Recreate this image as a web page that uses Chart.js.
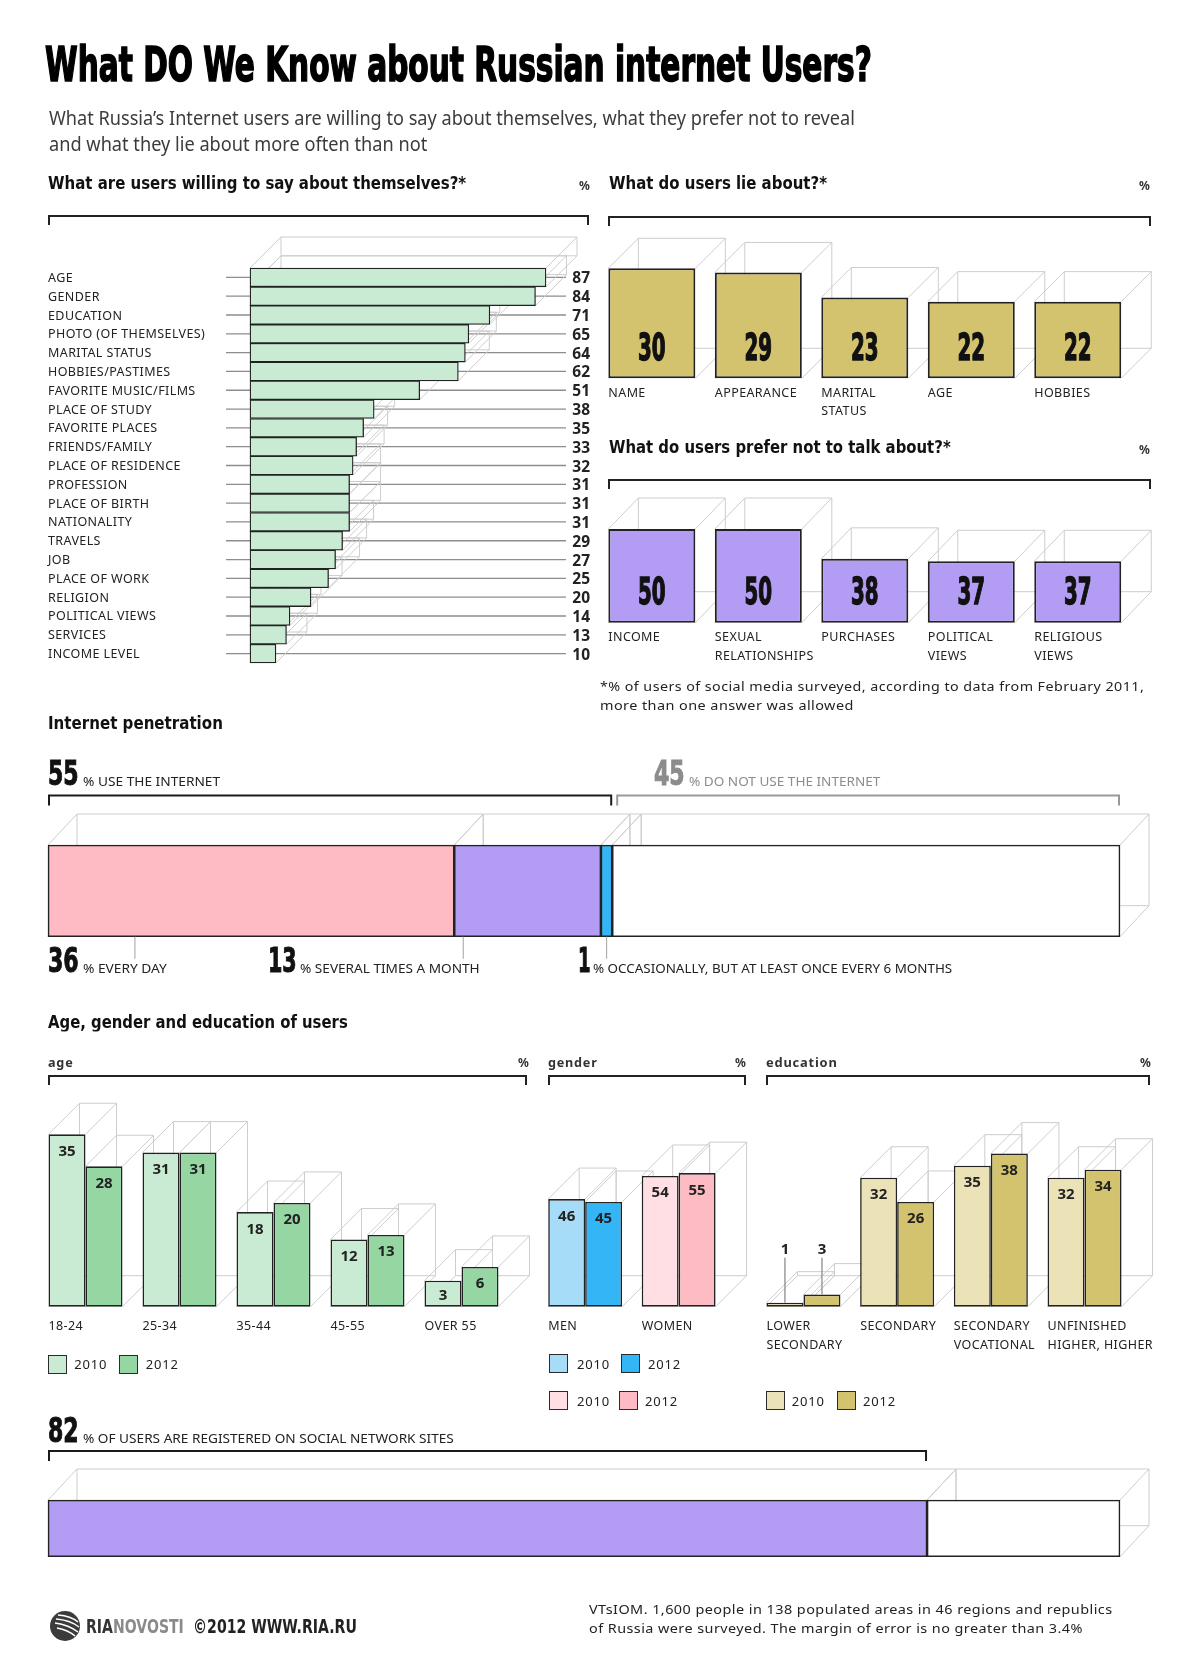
<!DOCTYPE html>
<html>
<head>
<meta charset="utf-8">
<script src="https://cdn.jsdelivr.net/npm/chart.js@4.4.1/dist/chart.umd.min.js"></script>
<style>
body { margin: 0; background: #fff; }
#page { position: relative; width: 1200px; height: 1680px; overflow: hidden; background: #fff; }
#page canvas { position: absolute; left: 0; top: 0; }
.txt { position: absolute; white-space: nowrap; line-height: 1; transform-origin: 0 50%; transform: translateY(-50%); color: #1a1a1a; }
.brk { position: absolute; border: 2px solid #222; border-bottom: none; height: 10px; box-sizing: border-box; }
.sq { position: absolute; width: 19px; height: 19px; border: 1.5px solid #2b2b2b; box-sizing: border-box; }
</style>
</head>
<body>
<div id="page"></div>
<script>
// ---- data ----
const WILLING_LABELS = ['AGE', 'GENDER', 'EDUCATION', 'PHOTO (OF THEMSELVES)', 'MARITAL STATUS',
  'HOBBIES/PASTIMES', 'FAVORITE MUSIC/FILMS', 'PLACE OF STUDY', 'FAVORITE PLACES', 'FRIENDS/FAMILY',
  'PLACE OF RESIDENCE', 'PROFESSION', 'PLACE OF BIRTH', 'NATIONALITY', 'TRAVELS', 'JOB',
  'PLACE OF WORK', 'RELIGION', 'POLITICAL VIEWS', 'SERVICES', 'INCOME LEVEL'];
const WILLING_VALUES = [87, 84, 71, 65, 64, 62, 51, 38, 35, 33, 32, 31, 31, 31, 29, 27, 25, 20, 14, 13, 10];

const LIE_LABELS = [['NAME'], ['APPEARANCE'], ['MARITAL', 'STATUS'], ['AGE'], ['HOBBIES']];
const LIE_VALUES = [30, 29, 23, 22, 22];

const SILENT_LABELS = [['INCOME'], ['SEXUAL', 'RELATIONSHIPS'], ['PURCHASES'], ['POLITICAL', 'VIEWS'], ['RELIGIOUS', 'VIEWS']];
const SILENT_VALUES = [50, 50, 38, 37, 37];

const USERS_TOTAL = 55;
const NON_USERS = 45;
const USAGE_LABELS = ['EVERY DAY', 'SEVERAL TIMES A MONTH', 'OCCASIONALLY, BUT AT LEAST ONCE EVERY 6 MONTHS'];
const USAGE_VALUES = [36, 13, 1];

const YEARS = ['2010', '2012'];
const AGE_LABELS = ['18-24', '25-34', '35-44', '45-55', 'OVER 55'];
const AGE_2010 = [35, 31, 18, 12, 3];
const AGE_2012 = [28, 31, 20, 13, 6];

const GENDER_LABELS = ['MEN', 'WOMEN'];
const GENDER_2010 = [46, 54];
const GENDER_2012 = [45, 55];

const EDU_LABELS = [['LOWER', 'SECONDARY'], ['SECONDARY'], ['SECONDARY', 'VOCATIONAL'], ['UNFINISHED', 'HIGHER, HIGHER']];
const EDU_2010 = [1, 32, 35, 32];
const EDU_2012 = [3, 26, 38, 34];

const SOCIAL_SHARE = 82;

// ---- colours and fonts ----
const INK = '#222';
const EDGE = '#cdcdcd';
const GREEN_LIGHT = '#c9ebd3';
const GREEN = '#95d6a3';
const GOLD = '#d4c36e';
const GOLD_LIGHT = '#ebe2b8';
const PURPLE = '#b39df4';
const PINK = '#ffbbc3';
const PINK_LIGHT = '#ffdfe4';
const BLUE = '#34b6f6';
const BLUE_LIGHT = '#a7dcf9';
const USAGE_COLORS = [PINK, PURPLE, BLUE];

const SANS = "'Noto Sans', 'DejaVu Sans', sans-serif";
const NARROW = "'DejaVu Sans Condensed', 'Liberation Sans Narrow', 'DejaVu Sans', sans-serif";
const LABEL_FONT = `12.5px ${SANS}`;

const page = document.getElementById('page');
const fits = [];

// ---- html helpers ----
function addText(x, cy, text, css, w) {
  const d = document.createElement('div');
  d.className = 'txt';
  d.style.left = x + 'px';
  d.style.top = cy + 'px';
  if (typeof text === 'string') d.textContent = text; else d.innerHTML = text.html;
  Object.assign(d.style, css || {});
  page.appendChild(d);
  if (w) fits.push([d, w]);
  return d;
}

function addBracket(x1, x2, y, color) {
  const d = document.createElement('div');
  d.className = 'brk';
  d.style.left = x1 + 'px';
  d.style.top = y + 'px';
  d.style.width = (x2 - x1) + 'px';
  if (color) d.style.borderColor = color;
  page.appendChild(d);
}

function addSquare(x, cy, color) {
  const d = document.createElement('div');
  d.className = 'sq';
  d.style.left = x + 'px';
  d.style.top = (cy - 9.5) + 'px';
  d.style.background = color;
  page.appendChild(d);
}

// ---- canvas helpers ----
function capText(ctx, text, x, cy, font, align, color, ls) {
  ctx.save();
  ctx.font = font;
  if ('letterSpacing' in ctx) ctx.letterSpacing = ls || '0px';
  ctx.fillStyle = color;
  ctx.textAlign = align;
  ctx.textBaseline = 'alphabetic';
  const cap = ctx.measureText('H').actualBoundingBoxAscent;
  ctx.fillText(text, x, cy + cap / 2);
  ctx.restore();
}

function condensed(ctx, text, cx, cy, px, charW, color) {
  ctx.save();
  ctx.font = `bold ${px}px ${NARROW}`;
  const w = ctx.measureText(text).width;
  const cap = ctx.measureText('0').actualBoundingBoxAscent;
  ctx.translate(cx, cy + cap / 2);
  ctx.scale(charW * text.length / w, 1);
  ctx.textAlign = 'center';
  ctx.fillStyle = color;
  ctx.strokeStyle = color;
  ctx.lineWidth = 1.4;
  ctx.fillText(text, 0, 0);
  ctx.strokeText(text, 0, 0);
  ctx.restore();
}

function bracket(ctx, x1, x2, y, color) {
  ctx.save();
  ctx.strokeStyle = color;
  ctx.lineWidth = 2;
  ctx.beginPath();
  ctx.moveTo(x1 + 1, y + 10);
  ctx.lineTo(x1 + 1, y);
  ctx.lineTo(x2 - 1, y);
  ctx.lineTo(x2 - 1, y + 10);
  ctx.stroke();
  ctx.restore();
}

function barBox(el) {
  const p = el.getProps(['x', 'y', 'base', 'width', 'height', 'horizontal'], true);
  if (p.horizontal) {
    return { l: Math.min(p.x, p.base), r: Math.max(p.x, p.base), t: p.y - p.height / 2, b: p.y + p.height / 2 };
  }
  return { l: p.x - p.width / 2, r: p.x + p.width / 2, t: Math.min(p.y, p.base), b: Math.max(p.y, p.base) };
}

function area(l, t, r, b) {
  return { left: l, top: t, right: 1200 - r, bottom: 1680 - b };
}

// ---- plugins ----
// wireframe "depth" box behind every bar
const depth = {
  id: 'depth',
  beforeDatasetsDraw(chart, args, opts) {
    const ctx = chart.ctx;
    const dx = opts.dx, dy = opts.dy;
    ctx.save();
    ctx.strokeStyle = EDGE;
    ctx.lineWidth = 1;
    chart.data.datasets.forEach((ds, i) => {
      chart.getDatasetMeta(i).data.forEach(el => {
        const b = barBox(el);
        ctx.beginPath();
        ctx.rect(b.l + dx, b.t + dy, b.r - b.l, b.b - b.t);
        [[b.l, b.t], [b.r, b.t], [b.r, b.b], [b.l, b.b]].forEach(([x, y]) => {
          ctx.moveTo(x, y);
          ctx.lineTo(x + dx, y + dy);
        });
        ctx.stroke();
      });
    });
    ctx.restore();
  }
};

// leader lines and text for the horizontal list
const willingText = {
  id: 'willingText',
  beforeDatasetsDraw(chart) {
    const ctx = chart.ctx;
    ctx.save();
    ctx.strokeStyle = '#8d8d8d';
    ctx.lineWidth = 1.3;
    chart.getDatasetMeta(0).data.forEach(el => {
      ctx.beginPath();
      ctx.moveTo(226, el.y);
      ctx.lineTo(566, el.y);
      ctx.stroke();
    });
    ctx.restore();
  },
  afterDatasetsDraw(chart) {
    const ctx = chart.ctx;
    const ds = chart.data.datasets[0];
    chart.getDatasetMeta(0).data.forEach((el, i) => {
      capText(ctx, chart.data.labels[i], 48, el.y, LABEL_FONT, 'left', INK, '0.4px');
      capText(ctx, String(ds.data[i]), 590, el.y, `bold 15.5px ${SANS}`, 'right', INK);
    });
  }
};

// category labels under vertical bars (left aligned to the group)
const catLabels = {
  id: 'catLabels',
  afterDatasetsDraw(chart, args, opts) {
    const ctx = chart.ctx;
    const meta = chart.getDatasetMeta(0);
    chart.data.labels.forEach((lab, i) => {
      const b = barBox(meta.data[i]);
      const lines = Array.isArray(lab) ? lab : [lab];
      lines.forEach((ln, k) => {
        capText(ctx, ln, b.l, b.b + opts.first + k * opts.gap, LABEL_FONT, 'left', INK, '0.4px');
      });
    });
  }
};

// big condensed values inside the boxes
const bigValues = {
  id: 'bigValues',
  afterDatasetsDraw(chart) {
    const ctx = chart.ctx;
    const ds = chart.data.datasets[0];
    chart.getDatasetMeta(0).data.forEach((el, i) => {
      const b = barBox(el);
      condensed(ctx, String(ds.data[i]), (b.l + b.r) / 2, b.b - 32.5, 38, 13.8, '#111');
    });
  }
};

// small values at the top of grouped bars
const smallValues = {
  id: 'smallValues',
  afterDatasetsDraw(chart) {
    const ctx = chart.ctx;
    chart.data.datasets.forEach((ds, di) => {
      chart.getDatasetMeta(di).data.forEach((el, i) => {
        const b = barBox(el);
        const cx = (b.l + b.r) / 2;
        const txt = String(ds.data[i]);
        if (b.b - b.t < 20) {
          ctx.save();
          ctx.strokeStyle = '#8d8d8d';
          ctx.lineWidth = 1.3;
          ctx.beginPath();
          ctx.moveTo(cx, b.b - 49);
          ctx.lineTo(cx, b.t);
          ctx.stroke();
          ctx.restore();
          capText(ctx, txt, cx, b.b - 57.5, `bold 15px ${SANS}`, 'center', INK);
        } else {
          capText(ctx, txt, cx, Math.min(b.t + 16.5, (b.t + b.b) / 2 + 1), `bold 15px ${SANS}`, 'center', INK);
        }
      });
    });
  }
};

// brackets and pointer ticks of the penetration bar
const penetrationMarks = {
  id: 'penetrationMarks',
  afterDatasetsDraw(chart) {
    const ctx = chart.ctx;
    const xs = chart.scales.x;
    const used = USAGE_VALUES.reduce((a, b) => a + b, 0);
    bracket(ctx, xs.getPixelForValue(0), xs.getPixelForValue(used), 795.5, '#1a1a1a');
    bracket(ctx, xs.getPixelForValue(used) + 4, xs.getPixelForValue(used + NON_USERS), 795.5, '#999');
    const bottom = chart.chartArea.bottom;
    ctx.save();
    ctx.strokeStyle = '#b0b0b0';
    ctx.lineWidth = 1.2;
    [7.7, USAGE_VALUES[0] + 0.8, USAGE_VALUES[0] + USAGE_VALUES[1] + 0.5].forEach(v => {
      const x = xs.getPixelForValue(v);
      ctx.beginPath();
      ctx.moveTo(x, bottom);
      ctx.lineTo(x, bottom + 22);
      ctx.stroke();
    });
    ctx.restore();
  }
};

const socialMarks = {
  id: 'socialMarks',
  afterDatasetsDraw(chart) {
    const xs = chart.scales.x;
    bracket(chart.ctx, xs.getPixelForValue(0), xs.getPixelForValue(SOCIAL_SHARE), 1451, '#1a1a1a');
  }
};

function baseOptions(pad, xs, ys, pluginOpts, extra) {
  return Object.assign({
    responsive: false,
    animation: false,
    devicePixelRatio: 1,
    layout: { padding: pad },
    scales: {
      x: Object.assign({ display: false }, xs),
      y: Object.assign({ display: false }, ys)
    },
    plugins: Object.assign({ legend: { display: false }, tooltip: { enabled: false } }, pluginOpts)
  }, extra || {});
}

function makeChart(cfg) {
  const c = document.createElement('canvas');
  c.width = 1200;
  c.height = 1680;
  page.appendChild(c);
  return new Chart(c, cfg);
}

function barSet(data, color, extra) {
  return Object.assign({
    data: data,
    backgroundColor: color,
    borderColor: INK,
    borderWidth: 1.6,
    borderSkipped: false,
    clip: false,
    barPercentage: 1,
    categoryPercentage: 1
  }, extra || {});
}

// ---- charts ----
const WILLING_MIN = 2.6;
makeChart({
  type: 'bar',
  data: { labels: WILLING_LABELS, datasets: [barSet(WILLING_VALUES, GREEN_LIGHT, { base: WILLING_MIN, borderWidth: 1.3 })] },
  options: baseOptions(area(250, 268, 546, 663),
    { min: WILLING_MIN, max: Math.max(...WILLING_VALUES) }, {},
    { depth: { dx: 31, dy: -31 } }, { indexAxis: 'y' }),
  plugins: [willingText, depth]
});

const LIE_MIN = 3.6;
makeChart({
  type: 'bar',
  data: { labels: LIE_LABELS, datasets: [barSet(LIE_VALUES, GOLD, { base: LIE_MIN, borderWidth: 2, categoryPercentage: 0.817 })] },
  options: baseOptions(area(598.6, 268.3, 1131, 378.3), {},
    { min: LIE_MIN, max: Math.max(...LIE_VALUES) },
    { depth: { dx: 30, dy: -30 }, catLabels: { first: 14, gap: 18.4 } }),
  plugins: [depth, catLabels, bigValues]
});

const SILENT_MIN = 12.3;
makeChart({
  type: 'bar',
  data: { labels: SILENT_LABELS, datasets: [barSet(SILENT_VALUES, PURPLE, { base: SILENT_MIN, borderWidth: 2, categoryPercentage: 0.817 })] },
  options: baseOptions(area(598.6, 529, 1131, 622.7), {},
    { min: SILENT_MIN, max: Math.max(...SILENT_VALUES) },
    { depth: { dx: 30, dy: -31 }, catLabels: { first: 14, gap: 19 } }),
  plugins: [depth, catLabels, bigValues]
});

makeChart({
  type: 'bar',
  data: {
    labels: [''],
    datasets: USAGE_VALUES.map((v, i) => barSet([v], USAGE_COLORS[i]))
      .concat([barSet([NON_USERS], '#fff')])
  },
  options: baseOptions(area(48, 845, 1120, 936.7),
    { stacked: true, min: 0, max: USAGE_VALUES.reduce((a, b) => a + b, 0) + NON_USERS },
    { stacked: true },
    { depth: { dx: 29, dy: -31 } }, { indexAxis: 'y' }),
  plugins: [depth, penetrationMarks]
});

const AGE_MIN = -2.7;
makeChart({
  type: 'bar',
  data: {
    labels: AGE_LABELS,
    datasets: [
      barSet(AGE_2010, GREEN_LIGHT, { base: AGE_MIN, categoryPercentage: 0.787 }),
      barSet(AGE_2012, GREEN, { base: AGE_MIN, categoryPercentage: 0.787 })
    ]
  },
  options: baseOptions(area(38.5, 1134.3, 508.5, 1306.7), {},
    { min: AGE_MIN, max: Math.max(...AGE_2010, ...AGE_2012) },
    { depth: { dx: 31, dy: -31 }, catLabels: { first: 19, gap: 18.6 } }),
  plugins: [depth, catLabels, smallValues]
});

const GENDER_MIN = 8.7;
makeChart({
  type: 'bar',
  data: {
    labels: GENDER_LABELS,
    datasets: [
      barSet(GENDER_2010, [BLUE_LIGHT, PINK_LIGHT], { base: GENDER_MIN, categoryPercentage: 0.79 }),
      barSet(GENDER_2012, [BLUE, PINK], { base: GENDER_MIN, categoryPercentage: 0.79 })
    ]
  },
  options: baseOptions(area(538.4, 1173.1, 725.4, 1306.7), {},
    { min: GENDER_MIN, max: Math.max(...GENDER_2010, ...GENDER_2012) },
    { depth: { dx: 31, dy: -31 }, catLabels: { first: 19, gap: 18.6 } }),
  plugins: [depth, catLabels, smallValues]
});

makeChart({
  type: 'bar',
  data: {
    labels: EDU_LABELS,
    datasets: [
      barSet(EDU_2010, GOLD_LIGHT, { base: 0, categoryPercentage: 0.79 }),
      barSet(EDU_2012, GOLD, { base: 0, categoryPercentage: 0.79 })
    ]
  },
  options: baseOptions(area(756.6, 1153.6, 1131.4, 1306.7), {},
    { min: 0, max: Math.max(...EDU_2010, ...EDU_2012) },
    { depth: { dx: 31, dy: -31 }, catLabels: { first: 19, gap: 18.6 } }),
  plugins: [depth, catLabels, smallValues]
});

makeChart({
  type: 'bar',
  data: {
    labels: [''],
    datasets: [barSet([SOCIAL_SHARE], PURPLE), barSet([100 - SOCIAL_SHARE], '#fff')]
  },
  options: baseOptions(area(48, 1500, 1120, 1556.7),
    { stacked: true, min: 0, max: 100 }, { stacked: true },
    { depth: { dx: 29, dy: -31 } }, { indexAxis: 'y' }),
  plugins: [depth, socialMarks]
});

// ---- text ----
const S_TITLE = { font: `bold 48px ${NARROW}`, color: '#000', webkitTextStroke: '1.6px #000' };
const S_SUB = { font: `19px ${SANS}`, color: '#3c3c3c' };
const S_HEAD = { font: `bold 18px ${NARROW}`, color: '#111' };
const S_PCT = { font: `bold 12px ${SANS}`, color: '#333' };
const S_NOTE = { font: `13px ${SANS}`, color: '#222', letterSpacing: '0.4px' };
const S_SUBHEAD = { font: `bold 13px ${SANS}`, color: '#333', letterSpacing: '0.8px' };
const S_BIG = { font: `bold 34px ${NARROW}`, color: '#111', webkitTextStroke: '1px #111' };
const S_BIG_GREY = Object.assign({}, S_BIG, { color: '#8c8c8c', webkitTextStroke: '1px #8c8c8c' });
const S_CAPS = { font: `13px ${SANS}`, color: '#222' };
const S_CAPS_GREY = Object.assign({}, S_CAPS, { color: '#8c8c8c' });
const S_LEG = { font: `13px ${SANS}`, color: '#222', letterSpacing: '0.8px' };
const S_LOGO = { font: `bold 19px ${NARROW}`, color: '#222' };

addText(45, 64, 'What DO We Know about Russian internet Users?', S_TITLE, 827);
addText(49, 118, 'What Russia’s Internet users are willing to say about themselves, what they prefer not to reveal', S_SUB, 806);
addText(49, 144, 'and what they lie about more often than not', S_SUB, 378);

addText(48, 182, 'What are users willing to say about themselves?*', S_HEAD, 418);
addText(579, 185, '%', S_PCT);
addText(609, 182, 'What do users lie about?*', S_HEAD, 218);
addText(1139, 185, '%', S_PCT);
addText(609, 446, 'What do users prefer not to talk about?*', S_HEAD, 342);
addText(1139, 449, '%', S_PCT);
addBracket(48, 589, 215);
addBracket(608, 1151, 216);
addBracket(608, 1151, 479);

addText(600, 686, '*% of users of social media surveyed, according to data from February 2011,', S_NOTE, 544);
addText(600, 704.5, 'more than one answer was allowed', S_NOTE, 254);

addText(48, 722, 'Internet penetration', S_HEAD, 175);
addText(48, 772.5, String(USERS_TOTAL), S_BIG, 31);
addText(82.6, 781, '% USE THE INTERNET', S_CAPS, 137);
addText(654, 772.5, String(NON_USERS), S_BIG_GREY, 31);
addText(688.6, 781, '% DO NOT USE THE INTERNET', S_CAPS_GREY, 191);

const USAGE_NUM_X = [48, 268, 577.6];
const USAGE_NUM_W = [31, 29, 12.4];
const USAGE_LBL_X = [82.6, 300, 593];
const USAGE_LBL_W = [83.4, 180, 359.6];
USAGE_VALUES.forEach((v, i) => {
  addText(USAGE_NUM_X[i], 960, String(v), S_BIG, USAGE_NUM_W[i]);
  addText(USAGE_LBL_X[i], 968, '% ' + USAGE_LABELS[i], S_CAPS, USAGE_LBL_W[i]);
});

addText(48, 1021, 'Age, gender and education of users', S_HEAD, 300);
addText(48, 1062, 'age', S_SUBHEAD, 25.3);
addText(518, 1062, '%', S_PCT);
addText(548.4, 1062, 'gender', S_SUBHEAD, 49.6);
addText(735, 1062, '%', S_PCT);
addText(765.6, 1062, 'education', S_SUBHEAD, 71.4);
addText(1140, 1062, '%', S_PCT);
addBracket(48, 527, 1075);
addBracket(548, 746, 1075);
addBracket(766, 1150, 1075);

addSquare(48, 1364, GREEN_LIGHT); addText(74.3, 1364, YEARS[0], S_LEG);
addSquare(119, 1364, GREEN); addText(145.7, 1364, YEARS[1], S_LEG);
addSquare(549, 1363.5, BLUE_LIGHT); addText(577, 1363.5, YEARS[0], S_LEG);
addSquare(621, 1363.5, BLUE); addText(648, 1363.5, YEARS[1], S_LEG);
addSquare(549, 1400.7, PINK_LIGHT); addText(577, 1400.7, YEARS[0], S_LEG);
addSquare(618.7, 1400.7, PINK); addText(645, 1400.7, YEARS[1], S_LEG);
addSquare(766, 1400.7, GOLD_LIGHT); addText(791.7, 1400.7, YEARS[0], S_LEG);
addSquare(836.7, 1400.7, GOLD); addText(863, 1400.7, YEARS[1], S_LEG);

addText(48, 1430, String(SOCIAL_SHARE), S_BIG, 31);
addText(82.6, 1438, '% OF USERS ARE REGISTERED ON SOCIAL NETWORK SITES', S_CAPS, 371);

// footer
const logo = document.createElementNS('http://www.w3.org/2000/svg', 'svg');
logo.setAttribute('width', '32');
logo.setAttribute('height', '32');
logo.setAttribute('viewBox', '0 0 32 32');
logo.style.position = 'absolute';
logo.style.left = '49px';
logo.style.top = '1610px';
logo.innerHTML = '<circle cx="16" cy="16" r="15" fill="#3b3b3b"/>' +
  '<path d="M9 5 Q22 6 29 12 M7 9 Q21 10 30 17 M6 13 Q20 15 29 22 M8 18 Q19 20 26 26" stroke="#fff" stroke-width="1.5" fill="none"/>';
page.appendChild(logo);
addText(85.7, 1626, { html: '<span style="color:#333">RIA</span><span style="color:#8a8a8a">NOVOSTI</span>' }, S_LOGO, 98);
addText(192.8, 1626, '©2012 WWW.RIA.RU', S_LOGO, 164);
addText(589, 1609, 'VTsIOM. 1,600 people in 138 populated areas in 46 regions and republics', S_NOTE, 524);
addText(589, 1628, 'of Russia were surveyed. The margin of error is no greater than 3.4%', S_NOTE, 494);

// squeeze each text run to the width it has in the picture
fits.forEach(([d, w]) => {
  d.style.transform = `translateY(-50%) scaleX(${w / d.offsetWidth})`;
});
</script>
</body>
</html>
